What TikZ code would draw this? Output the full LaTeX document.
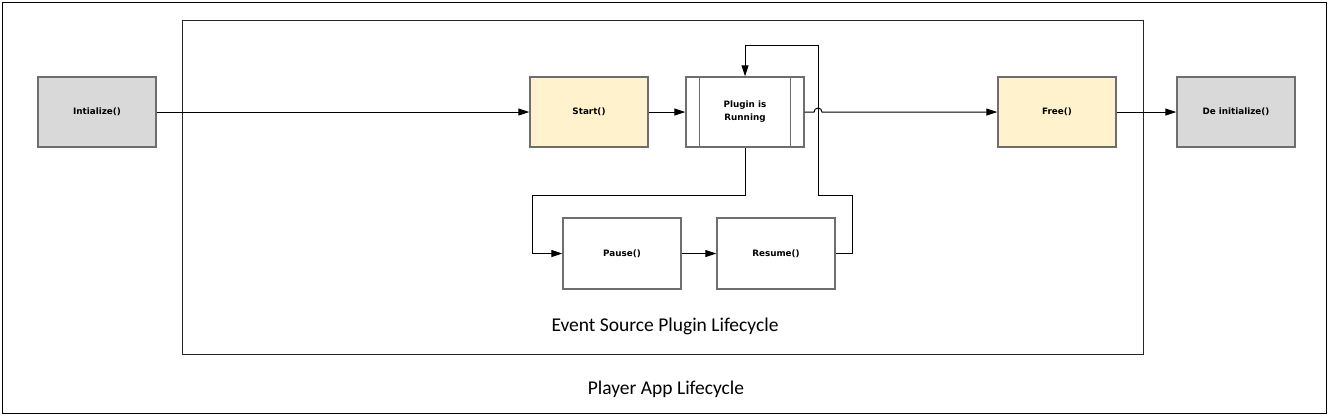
\documentclass[tikz,border=0pt]{standalone}
\usepackage{fontspec}
\setmainfont{Carlito}
\newfontfamily\boxfont{DejaVu Sans}
\usetikzlibrary{arrows.meta}
\definecolor{boxgray}{HTML}{D9D9D9}
\definecolor{boxyel}{HTML}{FFF2CC}
\definecolor{edgegray}{HTML}{6E6E6E}
\tikzset{
  blk/.style={draw=edgegray, line width=1.4pt, minimum width=118pt, minimum height=70pt,
    inner sep=0pt, font=\boxfont\bfseries\fontsize{8.8}{11}\selectfont, align=center},
  arr/.style={draw=black, line width=1pt, -{Triangle[length=11pt,width=7pt]}},
  lbl/.style={font=\fontsize{19.5}{22}\selectfont},
}
\begin{document}
\begin{tikzpicture}[x=1pt,y=-1pt]
\useasboundingbox (0,0) rectangle (1330,416);
\fill[white] (0,0) rectangle (1330,416);
\draw[black, line width=1pt] (2,2) rectangle (1326,413);
\draw[black!85, line width=1pt] (182,20) rectangle (1143,354);

\node[blk, fill=boxgray] (init) at (97,112) {Intialize()};
\node[blk, fill=boxyel] (start) at (589,112) {Start()};
\node[blk, fill=white] (plug) at (745,112) {Plugin is\\[2pt]Running};
\draw[edgegray, line width=1.4pt] ([xshift=14pt]plug.north west) -- ([xshift=14pt]plug.south west);
\draw[edgegray, line width=1.4pt] ([xshift=-14pt]plug.north east) -- ([xshift=-14pt]plug.south east);
\node[blk, fill=boxyel] (free) at (1057,112) {Free()};
\node[blk, fill=boxgray] (deinit) at (1236,112) {De initialize()};
\node[blk, fill=white, minimum height=71pt] (pause) at (622,253.5) {Pause()};
\node[blk, fill=white, minimum height=71pt] (resume) at (776,253.5) {Resume()};

\node[lbl] (lab1) at (665,326) {Event Source Plugin Lifecycle};
\node[lbl] (lab2) at (666,389) {Player App Lifecycle};

\draw[arr] (init) -- (start);
\draw[arr] (start) -- (plug);
\draw[arr] (plug.east) -- (814,112) arc[start angle=180, end angle=360, radius=4] -- (free.west);
\draw[arr] (free) -- (deinit);
\draw[arr] (plug.south) |- (532,195) |- (pause.west);
\draw[arr] (pause) -- (resume);
\draw[arr] (resume.east) -| (852,195) -| (818,45) -| (plug.north);
\end{tikzpicture}
\end{document}
